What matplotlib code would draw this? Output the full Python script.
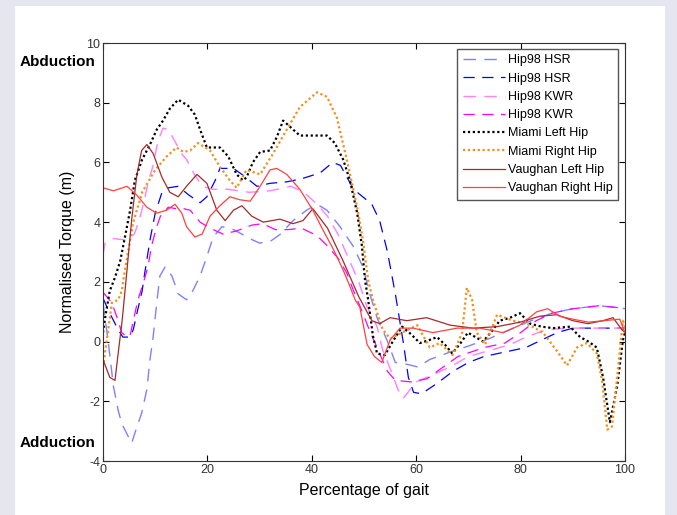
import matplotlib
matplotlib.use("Agg")
import matplotlib.pyplot as plt
from matplotlib.patches import Rectangle

plt.rcParams["font.family"] = ["Liberation Sans", "DejaVu Sans"]
plt.rcParams["axes.unicode_minus"] = False

# Hip98 HSR (two trials)
hsr1_x = [0, 1, 2, 2.9, 3.6, 4.6, 5.5, 6.5, 7.4, 8.4, 9, 9.6, 10.3, 10.9, 11.9, 13.2, 14.4, 16, 17.2,
          18.6, 19.9, 21.1, 22.8, 25, 28.7, 30, 32, 34, 36.4, 39, 41, 42.9, 45.4, 47.9, 49.8, 51.1,
          52.5, 54.4, 56, 58, 60.3, 62.6, 66.5, 70, 74, 78, 82, 86, 90, 95, 98, 100]
hsr1_y = [1.3, 0.0, -1.5, -2.3, -2.75, -3.1, -3.4, -2.85, -2.4, -1.6, -0.6, 0.15, 1.3, 2.2, 2.5, 2.2,
          1.6, 1.4, 1.7, 2.2, 2.85, 3.5, 3.85, 3.75, 3.4, 3.3, 3.35, 3.6, 4.05, 4.4, 4.6, 4.4, 3.85,
          3.2, 2.5, 1.6, 0.8, 0.05, -0.7, -0.75, -0.85, -0.6, -0.35, -0.15, 0.1, 0.4, 0.7, 0.95,
          1.1, 1.2, 1.15, 1.1]
hsr2_x = [0, 1.3, 2.9, 3.8, 5.2, 5.8, 6.5, 7.5, 8, 9, 10, 11.3, 12.5, 14.4, 16.5, 18.6, 19.9, 21.5,
          22.4, 25, 27, 29.5, 32, 35.2, 38, 41.6, 44, 45.5, 48, 51.5, 53, 54.5, 56, 57.5, 58.5, 59.5,
          61, 64, 67, 70, 73, 77, 81, 84, 87, 90, 94, 100]
hsr2_y = [1.45, 0.95, 0.4, 0.15, 0.15, 0.4, 0.95, 1.7, 2.3, 3.4, 4.3, 5.0, 5.15, 5.2, 4.9, 4.65, 4.85,
          5.4, 5.8, 5.8, 5.55, 5.2, 5.3, 5.35, 5.45, 5.65, 6.0, 5.9, 5.1, 4.6, 4.05, 3.0, 1.6, 0.0,
          -1.2, -1.7, -1.75, -1.4, -1.0, -0.7, -0.5, -0.35, -0.2, 0.05, 0.3, 0.45, 0.45, 0.45]

# Hip98 KWR (two trials)
kwr1_x = [0, 0.4, 2, 4.6, 6, 7, 8, 8.6, 9.6, 10.5, 11.5, 12.5, 13.8, 15, 16, 17.5, 19, 21, 24, 28,
          32, 36, 38.5, 41, 43, 45, 47, 49, 50.5, 52.5, 53.6, 55, 56.5, 57.5, 60, 62, 66.5, 70, 74,
          78, 81, 85, 90, 95, 100]
kwr1_y = [2.9, 3.3, 3.45, 3.4, 3.6, 4.1, 4.8, 5.3, 5.9, 6.7, 7.15, 7.1, 6.7, 6.3, 6.1, 5.6, 5.2, 5.1,
          5.1, 5.0, 5.05, 5.2, 5.0, 4.6, 4.2, 3.6, 2.8, 2.0, 1.2, 0.5, -0.3, -0.9, -1.6, -1.9, -1.35,
          -1.2, -0.85, -0.5, -0.3, -0.1, 0.15, 0.4, 0.45, 0.45, 0.45]
kwr2_x = [0, 1.7, 2.7, 3.6, 4.6, 5.2, 5.8, 6.7, 7.7, 8.6, 9.3, 10.2, 11, 12.5, 14, 15.5, 16.7, 18.6,
          20.5, 23, 25.5, 28.5, 30.6, 33, 35.5, 38, 41, 43, 45, 46.7, 48, 49.2, 51, 53, 54.5, 56, 59,
          62, 64, 68, 73, 77, 80, 83, 86, 90, 95, 98, 100]
kwr2_y = [1.65, 1.3, 0.8, 0.3, 0.15, 0.2, 0.7, 1.4, 1.95, 2.5, 3.2, 3.8, 4.2, 4.5, 4.45, 4.45, 4.4,
          4.0, 3.8, 3.6, 3.7, 3.9, 3.95, 3.75, 3.75, 3.8, 3.55, 3.2, 2.8, 2.3, 1.7, 1.2, 0.4, -0.4,
          -1.0, -1.3, -1.35, -1.25, -1.0, -0.5, -0.2, -0.05, 0.3, 0.7, 0.95, 1.1, 1.2, 1.15, 1.1]

# Miami
miami_l_x = [0, 0.5, 1.3, 2.3, 3.3, 4.2, 5.2, 6.1, 7.5, 9, 10.3, 11.5, 12.8, 14.4, 16.3, 17.6, 18.6,
             19.9, 21.5, 22.4, 24, 25.6, 26.8, 27.5, 28.7, 30.1, 32, 33.3, 34.5, 35.8, 37.7, 41, 42.9,
             44.4, 46, 47.3, 48.7, 49.6, 50.2, 50.8, 51.7, 52.5, 54, 55.5, 57.3, 59, 60.7, 62.5, 64,
             65.5, 66.9, 68.5, 69.9, 72.8, 74.5, 76, 78, 79.9, 81.8, 84, 86.2, 89.5, 91.4, 93, 94.6,
             95.8, 97.1, 98.5, 99.6, 100]
miami_l_y = [0.3, 0.9, 1.7, 2.15, 2.7, 3.5, 4.4, 5.4, 6.1, 6.6, 7.1, 7.4, 7.8, 8.1, 7.9, 7.6, 7.1,
             6.5, 6.5, 6.5, 6.2, 5.6, 5.4, 5.5, 6.0, 6.35, 6.4, 6.85, 7.4, 7.2, 6.9, 6.9, 6.9, 6.65,
             6.1, 5.4, 4.3, 3.2, 2.05, 1.4, 0.2, -0.4, -0.45, 0.0, 0.5, 0.25, -0.05, 0.05, 0.15, -0.1,
             -0.4, -0.05, 0.3, 0.0, 0.35, 0.7, 0.8, 0.95, 0.6, 0.5, 0.45, 0.5, 0.15, 0.0, -0.2, -1.2,
             -2.7, -1.5, 0.05, 0.3]
miami_r_x = [0, 1, 1.7, 2.9, 3.6, 4.2, 5.8, 7.5, 10, 12.2, 14.1, 15.4, 16.7, 18.2, 20.5, 22.4, 24.3,
             25.6, 27.5, 30.1, 32.6, 35.2, 37.7, 41, 42.9, 44.8, 46.7, 48.7, 49.8, 50.8, 51.7, 53.6,
             55, 57.3, 60.2, 62.6, 64.5, 67, 68.8, 69.7, 70.7, 71.6, 73.2, 75.5, 78.5, 81.2, 84.3,
             86.9, 88.9, 90.8, 92.7, 94.6, 95.6, 96.6, 97.5, 98.7, 99.6, 100]
miami_r_y = [-0.85, 0.4, 1.3, 1.4, 1.7, 2.4, 4.0, 5.0, 5.75, 6.2, 6.5, 6.35, 6.4, 6.65, 6.4, 5.85,
             5.4, 5.15, 5.75, 5.6, 6.3, 7.1, 7.85, 8.35, 8.2, 7.5, 6.1, 4.5, 3.4, 2.05, 1.4, 0.4, 0.1,
             0.3, 0.55, -0.2, -0.05, -0.45, 0.3, 1.8, 1.4, 0.3, -0.1, 0.9, 0.7, 0.6, 0.3, -0.3, -0.8,
             -0.2, -0.05, -0.4, -1.3, -2.95, -2.85, -0.85, 0.7, 0.5]

# Vaughan
vaughan_l_x = [0, 1.3, 2.3, 2.9, 3.6, 4.0, 4.6, 5.5, 6.5, 7.4, 8.4, 9.6, 11.3, 12.8, 14.4, 16, 18,
               19.9, 21.8, 23.4, 25, 26.6, 28.5, 30.7, 33.9, 36.4, 38.3, 40.2, 43, 46, 49, 51.5, 53,
               55, 58.2, 62, 66.5, 70.9, 75.5, 79.9, 83.7, 86.9, 90, 92.9, 95.8, 97.7, 99.4, 100]
vaughan_l_y = [-0.6, -1.2, -1.3, -0.4, 0.6, 1.3, 2.4, 4.1, 5.6, 6.4, 6.6, 6.3, 5.5, 5.0, 4.85, 5.2,
               5.6, 5.3, 4.4, 4.05, 4.4, 4.55, 4.2, 4.0, 4.1, 3.95, 4.05, 4.45, 3.8, 2.7, 1.5, 0.7,
               0.6, 0.8, 0.7, 0.8, 0.55, 0.45, 0.5, 0.65, 0.85, 0.9, 0.7, 0.6, 0.7, 0.8, 0.4, 0.3]
vaughan_r_x = [0, 2, 4.6, 6.5, 8.4, 10.3, 12.2, 13.8, 15.1, 16, 17.6, 19, 20.5, 22.4, 24.3, 26.2,
               28.2, 30.1, 32, 33.3, 35.2, 37.7, 40.2, 42.1, 44.1, 46, 47.3, 48.3, 49.2, 50.6, 52,
               53.4, 55, 56.9, 59.4, 63.2, 67.8, 72.2, 76.6, 79.9, 83.1, 85.2, 87.5, 90, 93, 96, 99,
               100]
vaughan_r_y = [5.15, 5.05, 5.2, 4.9, 4.5, 4.3, 4.4, 4.6, 4.3, 3.85, 3.5, 3.6, 4.2, 4.55, 4.85, 4.75,
               4.7, 5.2, 5.75, 5.8, 5.6, 5.1, 4.4, 3.75, 3.1, 2.4, 1.85, 1.4, 1.15, -0.1, -0.5, -0.7,
               0.05, 0.45, 0.45, 0.3, 0.45, 0.45, 0.3, 0.55, 1.0, 1.1, 0.85, 0.75, 0.65, 0.7, 0.75,
               0.3]

dash = (9, 6)
dot = (1, 1.2)
series = [
    ("Hip98 HSR", hsr1_x, hsr1_y, "#8080FF", dash, 1.0),
    ("Hip98 HSR", hsr2_x, hsr2_y, "#0000FF", dash, 0.9),
    ("Hip98 KWR", kwr1_x, kwr1_y, "#FF80FF", dash, 1.0),
    ("Hip98 KWR", kwr2_x, kwr2_y, "#FF00FF", dash, 0.9),
    ("Miami Left Hip", miami_l_x, miami_l_y, "black", dot, 1.6),
    ("Miami Right Hip", miami_r_x, miami_r_y, "#F0901E", dot, 1.6),
    ("Vaughan Left Hip", vaughan_l_x, vaughan_l_y, "#A52A2A", None, 0.9),
    ("Vaughan Right Hip", vaughan_r_x, vaughan_r_y, "#FF4040", None, 0.9),
]

fig = plt.figure(figsize=(6.77, 5.15), dpi=100, facecolor="#E6E6F0")
# white panel inside the lavender border, behind everything
fig.patches.append(Rectangle((15 / 677, 0), 650 / 677, 1 - 6 / 515, transform=fig.transFigure,
                             facecolor="white", edgecolor="none", zorder=-10))
ax = fig.add_axes([103 / 677, 1 - 461 / 515, 522 / 677, 418 / 515])
ax.set_zorder(1)

for label, x, y, color, ds, lw in series:
    line, = ax.plot(x, y, color=color, lw=lw, label=label)
    if ds is not None:
        line.set_dashes(ds)

ax.set_xlim(0, 100)
ax.set_ylim(-4, 10)
ax.set_xticks([0, 20, 40, 60, 80, 100])
ax.set_yticks(range(-4, 11, 2))
ax.tick_params(direction="in", top=True, right=True, length=4, labelsize=9, labelcolor="#333333",
               pad=2)
for s in ax.spines.values():
    s.set_linewidth(0.8)
    s.set_color("#333333")

ax.set_xlabel("Percentage of gait", fontsize=11.5, labelpad=5)
ax.set_ylabel("Normalised Torque (m)", fontsize=11.5, labelpad=8)
fig.text(58 / 677, 1 - 62 / 515, "Abduction", fontsize=11, fontweight="bold", ha="center", va="center")
fig.text(58 / 677, 1 - 443 / 515, "Adduction", fontsize=11, fontweight="bold", ha="center", va="center")

leg = ax.legend(loc="upper right", bbox_to_anchor=(0.987, 0.986), borderaxespad=0,
                fontsize=9, handlelength=3.4, labelspacing=0.5, handletextpad=0.2,
                fancybox=False, framealpha=1, borderpad=0.45)
leg.get_frame().set_edgecolor("#555555")
leg.get_frame().set_linewidth(1.0)

fig.savefig("out.png", dpi=100, facecolor=fig.get_facecolor())
